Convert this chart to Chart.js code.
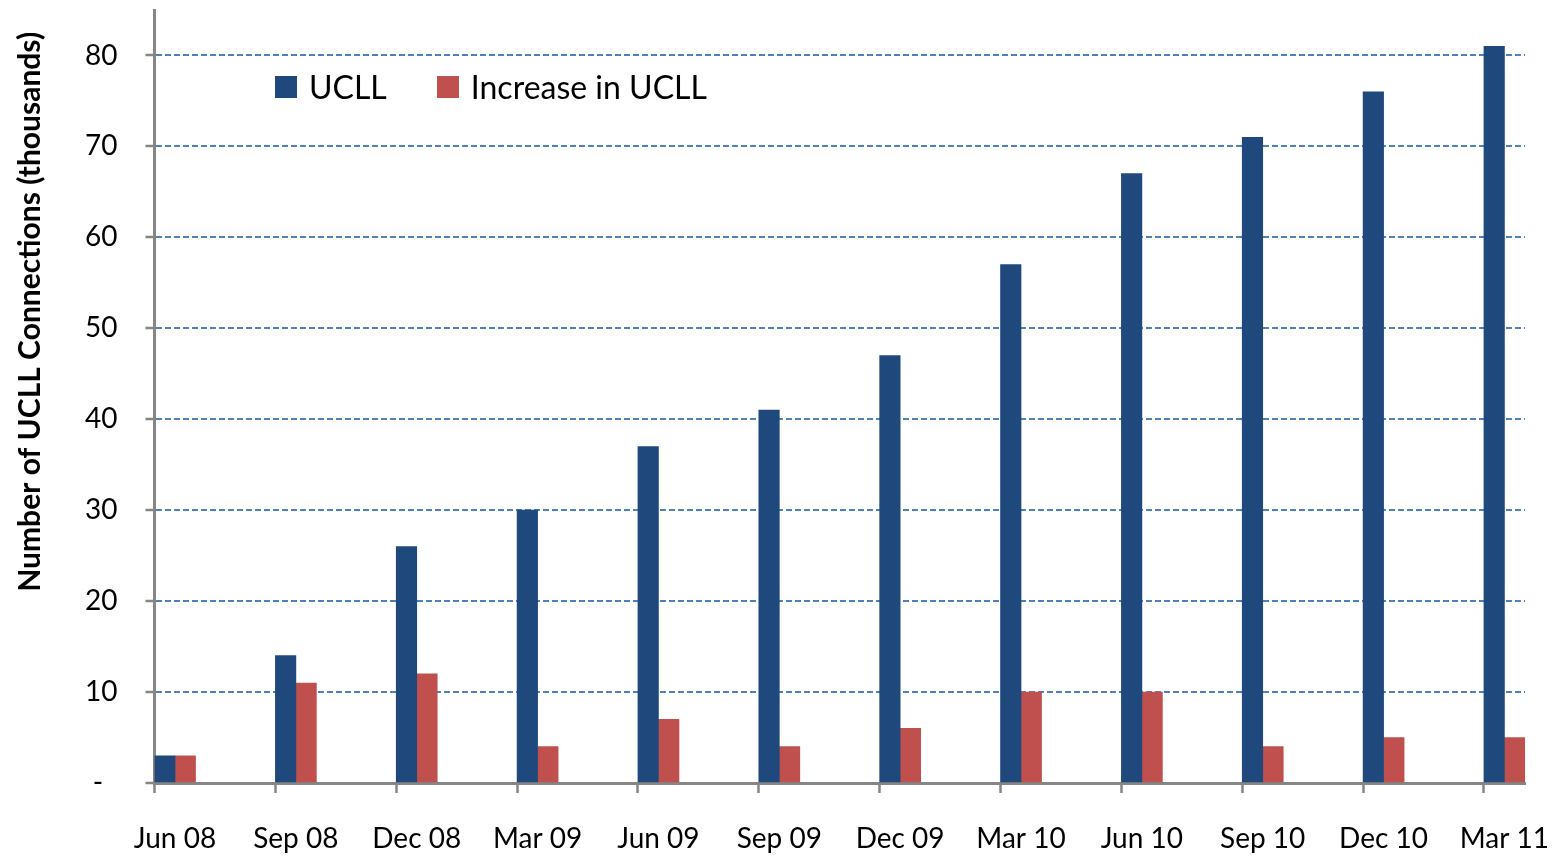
<!DOCTYPE html>
<html>
<head>
<meta charset="utf-8">
<script src="https://cdn.jsdelivr.net/npm/chart.js@4"></script>
<style>
  html, body { margin: 0; padding: 0; background: #fff; }
  #wrap { position: relative; width: 1560px; height: 857px; }
  #legend { position: absolute; left: 275px; top: 67px; display: flex; font-family: Lato; font-size: 32px; color: #000; }
  #legend .item { display: flex; align-items: center; margin-right: 50px; }
  #legend .box { width: 22px; height: 22px; margin-right: 12px; }
</style>
</head>
<body>
<div id="wrap"><canvas id="uclls"></canvas><div id="legend"></div></div>
<script>
var quarters = ['Jun 08', 'Sep 08', 'Dec 08', 'Mar 09', 'Jun 09', 'Sep 09', 'Dec 09', 'Mar 10', 'Jun 10', 'Sep 10', 'Dec 10', 'Mar 11'];
var ucllValues = [3, 14, 26, 30, 37, 41, 47, 57, 67, 71, 76, 81];
var increaseValues = [3, 11, 12, 4, 7, 4, 6, 10, 10, 4, 5, 5];
var yTicks = [0, 10, 20, 30, 40, 50, 60, 70, 80];

// half a bar group, in category units (tick marks sit at the group's left edge)
var half = 0.17;

function points(values) {
  return values.map(function (v, i) { return { x: i, y: v }; });
}

Chart.defaults.font.family = 'Lato';
Chart.defaults.color = '#000';

var gridBlue = '#4f81bd';
var axisGray = '#868686';

// html legend built from the datasets
var htmlLegend = {
  id: 'htmlLegend',
  afterUpdate: function (chart) {
    var box = document.getElementById('legend');
    box.innerHTML = '';
    chart.data.datasets.forEach(function (ds) {
      var item = document.createElement('div');
      item.className = 'item';
      var sw = document.createElement('span');
      sw.className = 'box';
      sw.style.background = ds.backgroundColor;
      item.appendChild(sw);
      item.appendChild(document.createTextNode(ds.label));
      box.appendChild(item);
    });
  }
};

new Chart(document.getElementById('uclls'), {
  type: 'bar',
  data: {
    datasets: [
      { label: 'UCLL', data: points(ucllValues), backgroundColor: '#1f497d' },
      { label: 'Increase in UCLL', data: points(increaseValues), backgroundColor: '#c0504d' }
    ]
  },
  options: {
    responsive: true,
    maintainAspectRatio: false,
    animation: false,
    barThickness: 20.5,
    layout: { padding: { left: 12, right: 35, top: 10, bottom: 0 } },
    plugins: {
      tooltip: { enabled: false },
      legend: { display: false }
    },
    scales: {
      x: {
        type: 'linear',
        offset: false,
        min: -half,
        max: quarters.length - 1 + half,
        afterBuildTicks: function (axis) {
          axis.ticks = quarters.map(function (q, i) { return { value: i - half }; });
        },
        afterFit: function (axis) {
          axis.height = 74;
        },
        ticks: {
          autoSkip: false,
          maxRotation: 0,
          padding: 29,
          labelOffset: 20.5,
          font: { size: 28 },
          callback: function (value, index) { return quarters[index]; }
        },
        grid: {
          display: true,
          offset: false,
          drawOnChartArea: false,
          drawTicks: true,
          tickLength: 10,
          tickColor: axisGray,
          tickWidth: 2.5
        },
        border: { display: true, color: axisGray, width: 3 }
      },
      y: {
        min: 0,
        max: 85,
        afterBuildTicks: function (axis) {
          axis.ticks = yTicks.map(function (v) { return { value: v }; });
        },
        afterFit: function (axis) {
          axis.paddingTop = 0;
          axis.paddingBottom = 0;
        },
        ticks: {
          padding: 28,
          font: { size: 28 },
          callback: function (value) { return value === 0 ? '-  ' : value; }
        },
        grid: {
          color: function (ctx) { return ctx.tick && ctx.tick.value === 0 ? 'rgba(0,0,0,0)' : gridBlue; },
          lineWidth: 2,
          tickLength: 9,
          tickColor: axisGray,
          tickWidth: 2.5
        },
        border: { display: true, color: axisGray, width: 3, dash: [6, 3] },
        title: {
          display: true,
          align: 'end',
          text: 'Number of UCLL Connections (thousands)   ',
          font: { size: 30, weight: 'bold' },
          padding: { top: 0, bottom: 9 }
        }
      }
    }
  },
  plugins: [htmlLegend]
});
</script>
</body>
</html>
